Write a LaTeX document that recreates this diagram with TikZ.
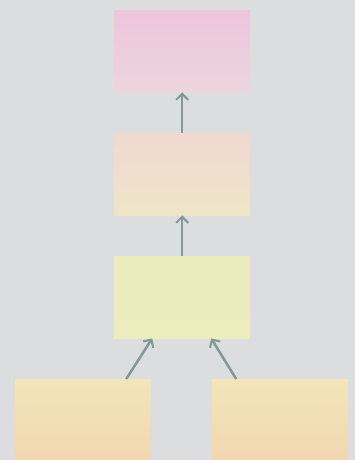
\documentclass[tikz,border=0pt]{standalone}
\usetikzlibrary{arrows.meta}
\definecolor{bg}{RGB}{220,221,223}
\definecolor{aline}{RGB}{127,154,152}
\definecolor{pinkT}{RGB}{237,197,221}
\definecolor{pinkB}{RGB}{236,213,220}
\definecolor{peachT}{RGB}{240,216,208}
\definecolor{peachB}{RGB}{238,229,200}
\definecolor{limeT}{RGB}{234,236,190}
\definecolor{limeB}{RGB}{236,236,188}
\definecolor{sandT}{RGB}{242,229,184}
\definecolor{sandB}{RGB}{242,215,176}
\begin{document}
\begin{tikzpicture}[x=1pt,y=-1pt,
  boxnode/.style={rectangle,draw=none,minimum width=136pt,minimum height=82pt,inner sep=0pt,anchor=north west},
  conn/.style={draw=aline,line width=2.5pt,-{Straight Barb[length=6pt,width=12pt,line width=2pt]}}]
\fill[bg] (0,0) rectangle (355,460);
\useasboundingbox (0,0) rectangle (355,460);
\node[boxnode,top color=pinkT,bottom color=pinkB] (a) at (114,10) {};
\node[boxnode,top color=peachT,bottom color=peachB] (b) at (114,133) {};
\node[boxnode,top color=limeT,bottom color=limeB] (c) at (114,256) {};
\node[boxnode,top color=sandT,bottom color=sandB] (d) at (15,379) {};
\node[boxnode,top color=sandT,bottom color=sandB] (e) at (212,379) {};
\draw[conn] (b.north) -- (a.south);
\draw[conn] (c.north) -- (b.south);
\draw[conn] ([xshift=43pt]d.north) -- ([xshift=-30pt]c.south);
\draw[conn] ([xshift=-44pt]e.north) -- ([xshift=29pt]c.south);
\end{tikzpicture}
\end{document}
